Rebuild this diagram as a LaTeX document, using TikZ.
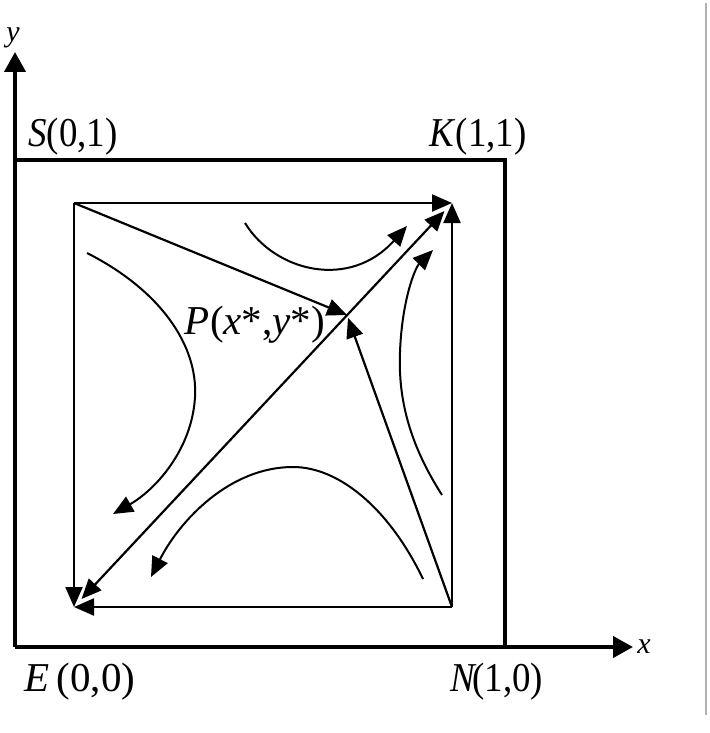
\documentclass[tikz,border=0pt]{standalone}
\usepackage{fontspec}
\setmainfont{Liberation Serif}
\newfontfamily\labfont[FakeStretch=0.9]{Liberation Serif}
\usetikzlibrary{arrows.meta}
\begin{document}
\begin{tikzpicture}[x=1pt,y=-1pt,
  tip/.tip={Triangle[length=20pt,width=17pt]},
  axisline/.style={line width=4pt,-{Triangle[length=20pt,width=21pt]}},
  frame/.style={line width=4pt},
  edge/.style={line width=2.2pt,-tip},
  flow/.style={line width=2pt,-tip},
  lab/.style={inner sep=0pt,font=\labfont\fontsize{41}{44}\selectfont},
  axlab/.style={inner sep=0pt,font=\fontsize{30}{32}\selectfont\itshape}]
\useasboundingbox (0,0) rectangle (709,733);
% frame and axes
\coordinate (O) at (15,647);
\coordinate (Ytop) at (15,52);
\coordinate (Xend) at (633,647);
\coordinate (S0) at (15,160);
\coordinate (K0) at (505,160);
\coordinate (N0) at (505,647);
\draw[frame] (S0) -- (K0) -- (N0);
\draw[axisline] (O) -- (Ytop);
\draw[axisline] (O) -- (Xend);
\node[axlab] (ylab) at (13,38) {y};
\node[axlab] (xlab) at (644,647) {x};
% gray side line
\coordinate (G1) at (706,3);
\coordinate (G2) at (706,715);
\draw[line width=1.5pt,color=black!30] (G1) -- (G2);
% labels
\node[lab] (Slab) at (73,137) {\textit{S}(0,1)};
\node[lab] (Klab) at (478,137) {\textit{K}(1,1)};
\node[lab,font=\fontsize{41}{44}\selectfont] (Elab) at (80,682) {\textit{E}\,(0,0)};
\node[lab] (Nlab) at (497,682) {\textit{N}\kern-5pt(1,0)};
% inner square corners
\coordinate (E) at (74,607);
\coordinate (K) at (452,203);
\coordinate (Sc) at (74,203);
\coordinate (Nc) at (452,607);
\coordinate (P) at (347,315);
\draw[edge] (Sc) -- (K);
\draw[edge] (Nc) -- (K);
\draw[edge] (Sc) -- (E);
\draw[edge] (Nc) -- (E);
\draw[edge] (Sc) -- (P);
\draw[edge,shorten >=3pt] (Nc) -- (P);
\draw[edge,tip-tip,shorten >=11pt,shorten <=11pt] (E) -- (K);
\node[lab,font=\fontsize{41}{44}\selectfont] (Plab) at (255,325) {\textit{P}(\textit{x}*,\textit{y}*)};
% trajectories
\coordinate (a0) at (245,223);
\coordinate (a1) at (407,226);
\draw[flow] (a0) .. controls (275,272) and (350,290) .. (a1);
\coordinate (b0) at (87,253);
\coordinate (bm) at (195,397);
\coordinate (b1) at (113,514);
\draw[flow] (b0) .. controls (160,290) and (198,345) .. (bm) .. controls (192,450) and (155,490) .. (b1);
\coordinate (c0) at (442,495);
\coordinate (cm) at (400,352);
\coordinate (c1) at (433,250);
\draw[flow] (c0) .. controls (410,445) and (398,400) .. (cm) .. controls (402,300) and (415,268) .. (c1);
\coordinate (d0) at (423,579);
\coordinate (dm) at (293,467);
\coordinate (d1) at (151,577);
\draw[flow] (d0) .. controls (390,510) and (340,467) .. (dm) .. controls (230,467) and (180,520) .. (d1);
\end{tikzpicture}
\end{document}
